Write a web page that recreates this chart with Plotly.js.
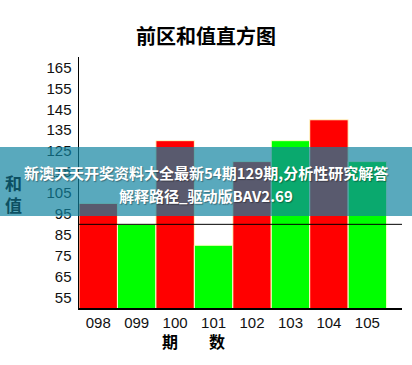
<!DOCTYPE html>
<html>
<head>
<meta charset="utf-8">
<script src="https://cdn.plot.ly/plotly-3.0.1.min.js"></script>
<style>
html,body{margin:0;padding:0;background:#fff;}
#chart{width:412px;height:365px;}
</style>
</head>
<body>
<div id="chart"></div>
<script>
// Data
const periods = ['098', '099', '100', '101', '102', '103', '104', '105'];
const sumValues = [100, 90, 130, 80, 120, 130, 140, 120];
const barColors = ['#ff0000', '#00ff00', '#ff0000', '#00ff00', '#ff0000', '#00ff00', '#ff0000', '#00ff00'];
const refLine = [90];
const yTicks = [55, 65, 75, 85, 95, 105, 115, 125, 135, 145, 155, 165];
const chartTitle = '前区和值直方图';
const yTitle = '和<br>值';
const xTitleChars = ['期', '数'];
const bannerLines = ['新澳天天开奖资料大全最新54期129期,分析性研究解答', '解释路径_驱动版BAV2.69'];

// layout helpers (pixel geometry of the plot area)
const W = 412, H = 365;
const mL = 79, mR = 10, mT = 57, mB = 57;
const pw = W - mL - mR, ph = H - mT - mB;
const px = x => (x - mL) / pw;
const py = y => (H - mB - y) / ph;

const cjk = '"Noto Sans CJK SC", "Noto Sans", sans-serif';
const tickFont = {family: '"Liberation Sans", Arial, sans-serif', size: 15, color: '#111'};

const trace = {
  type: 'bar',
  x: periods,
  y: sumValues,
  base: 0,
  marker: {color: barColors, line: {color: '#ffffc8', width: 1}},
  hoverinfo: 'none'
};

const annotations = [
  {text: yTitle, xref: 'paper', yref: 'paper', x: px(13), y: py(193), showarrow: false,
   xanchor: 'center', yanchor: 'middle',
   font: {family: cjk, size: 17, color: 'rgb(12,80,98)', weight: 'bold'}},
  {text: xTitleChars[0], xref: 'paper', yref: 'paper', x: px(170), y: py(341), showarrow: false,
   xanchor: 'center', yanchor: 'middle', font: {family: cjk, size: 16, color: '#000', weight: 'bold'}},
  {text: xTitleChars[1], xref: 'paper', yref: 'paper', x: px(217), y: py(341), showarrow: false,
   xanchor: 'center', yanchor: 'middle', font: {family: cjk, size: 16, color: '#000', weight: 'bold'}},
  {text: bannerLines[0], xref: 'paper', yref: 'paper', x: px(206), y: py(172), showarrow: false,
   xanchor: 'center', yanchor: 'middle',
   font: {family: cjk, size: 15, color: '#ffffff', weight: 'bold', shadow: '1px 1px 1px rgba(0,0,0,0.35)'}},
  {text: bannerLines[1], xref: 'paper', yref: 'paper', x: px(206), y: py(195), showarrow: false,
   xanchor: 'center', yanchor: 'middle',
   font: {family: cjk, size: 15, color: '#ffffff', weight: 'bold', shadow: '1px 1px 1px rgba(0,0,0,0.35)'}}
];

const shapes = [
  {type: 'line', xref: 'paper', yref: 'y', x0: 0, x1: 1, y0: refLine[0], y1: refLine[0],
   line: {color: '#000', width: 1}, layer: 'above'},
  {type: 'rect', xref: 'paper', yref: 'paper', x0: px(0), x1: px(W), y0: py(216), y1: py(147),
   fillcolor: 'rgba(15,130,160,0.69)', line: {width: 0}, layer: 'above'}
];

const layout = {
  width: W, height: H,
  margin: {l: mL, r: mR, t: mT, b: mB, pad: 0},
  paper_bgcolor: '#fff', plot_bgcolor: '#fff',
  showlegend: false,
  bargap: 0,
  title: {text: chartTitle, x: 0.5, xanchor: 'center', xref: 'container',
          y: 1 - 37 / H, yanchor: 'middle', yref: 'container',
          font: {family: cjk, size: 20, color: '#000', weight: 'bold'}},
  xaxis: {
    type: 'category', range: [-0.5, 7.9], showgrid: false, zeroline: false,
    showline: true, linecolor: '#000', linewidth: 1.5, ticks: '',
    tickfont: tickFont, ticklabelstandoff: 0, fixedrange: true
  },
  yaxis: {
    range: [50, 170], tickmode: 'array', tickvals: yTicks, ticktext: yTicks.map(String),
    showgrid: false, zeroline: false, showline: true, linecolor: '#000', linewidth: 1.5,
    ticks: '', tickfont: tickFont, ticklabelstandoff: 3, fixedrange: true
  },
  annotations: annotations,
  shapes: shapes
};

Plotly.newPlot('chart', [trace], layout, {staticPlot: true, displayModeBar: false});
</script>
</body>
</html>
